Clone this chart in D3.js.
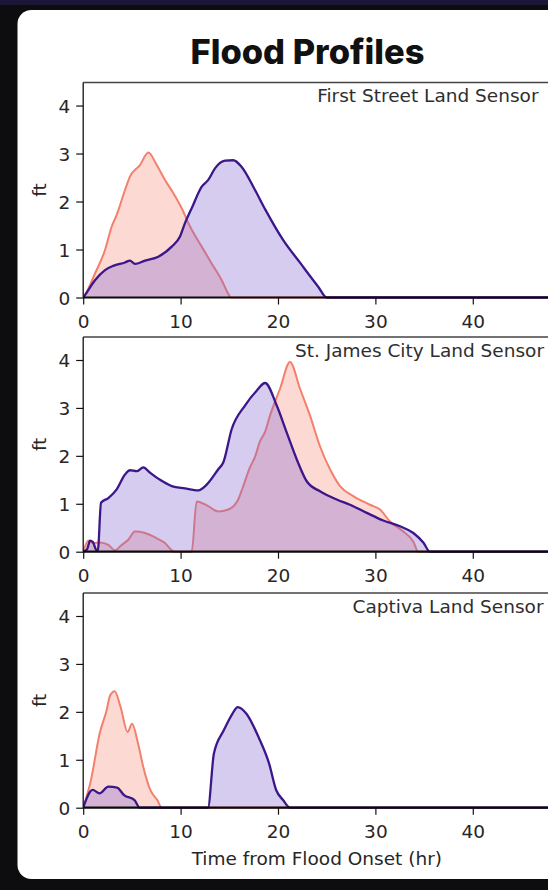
<!DOCTYPE html>
<html>
<head>
<meta charset="utf-8">
<script src="https://cdn.jsdelivr.net/npm/d3@7"></script>
<style>
  html, body { margin: 0; padding: 0; background: #0d0d0f; }
  svg { display: block; }
</style>
</head>
<body>
<svg id="chart" width="548" height="890"></svg>
<script>
// ---------------- DATA ----------------
const chartTitle = "Flood Profiles";
const xAxisLabel = "Time from Flood Onset (hr)";
const yAxisLabel = "ft";
const sensorNames = ["First Street Land Sensor", "St. James City Land Sensor", "Captiva Land Sensor"];
const xTickValues = [0, 10, 20, 30, 40];
const yTickValues = [0, 1, 2, 3, 4];

// [hours from onset, depth ft]
const firstStreetSalmon = [[0,0],[0.18,0.05],[1.21,0.5],[2.24,0.99],[2.93,1.48],[3.44,1.72],[4.29,2.24],[4.8,2.52],[5.83,2.76],[6.69,3.02],[7.55,2.76],[8.4,2.45],[9.26,2.17],[10.11,1.86],[10.97,1.48],[12.17,1.06],[13.19,0.71],[14.22,0.36],[14.97,0.05],[15.14,0],[48,0]];
const firstStreetPurple = [[0,0],[0.18,0.05],[1.21,0.36],[2.24,0.57],[3.09,0.66],[4.29,0.73],[4.8,0.77],[5.32,0.70],[6.35,0.77],[7.71,0.85],[9.09,1.06],[9.94,1.27],[10.45,1.55],[11.14,1.86],[12.17,2.31],[12.84,2.45],[13.53,2.69],[14.56,2.85],[15.41,2.86],[16.27,2.72],[17.64,2.24],[18.73,1.82],[20.52,1.2],[22.32,0.71],[24.11,0.23],[25.01,0],[48,0]];

const stJamesSalmon = [[0,0],[0.53,0.23],[1.04,0.18],[1.72,0.19],[2.58,0.14],[3.26,0.03],[3.95,0.14],[4.63,0.25],[5.32,0.42],[6.35,0.39],[7.55,0.28],[8.4,0.18],[9.09,0.03],[9.3,0],[11.14,0],[11.65,1.05],[12.84,0.95],[13.87,0.84],[14.9,0.88],[15.92,1.09],[16.4,1.35],[17.1,1.75],[17.64,1.98],[18.15,2.3],[18.67,2.5],[19.18,2.84],[20.21,3.4],[21.23,3.96],[22.26,3.4],[23.29,2.84],[24.31,2.2],[25.34,1.72],[26.37,1.37],[27.73,1.16],[29.44,0.98],[30.47,0.88],[31.5,0.63],[32.87,0.42],[33.9,0.21],[34.4,0],[48,0]];
const stJamesPurple = [[0,0],[0.4,0.05],[0.7,0.23],[1.0,0.2],[1.3,0.05],[1.5,0.02],[1.83,1.02],[2.58,1.12],[3.44,1.3],[4.29,1.61],[4.8,1.7],[5.49,1.68],[6.17,1.76],[6.86,1.65],[7.89,1.5],[9.09,1.37],[10.45,1.32],[11.82,1.28],[12.68,1.4],[13.87,1.72],[14.38,1.86],[15.25,2.56],[16.61,3.05],[17.81,3.36],[18.67,3.52],[19.87,3.05],[20.89,2.49],[21.92,1.93],[22.95,1.47],[24.31,1.26],[26.03,1.09],[27.39,0.98],[29.11,0.81],[30.81,0.65],[32.53,0.53],[33.9,0.39],[34.92,0.19],[35.6,0],[48,0]];

const captivaSalmon = [[0,0],[0.79,0.57],[1.68,1.54],[2.4,2.03],[2.76,2.34],[3.23,2.43],[3.84,2.1],[4.56,1.58],[5.02,1.75],[5.63,1.34],[6.17,0.85],[6.89,0.37],[7.61,0.16],[8.07,0],[48,0]];
const captivaPurple = [[0,0],[0.97,0.37],[1.68,0.3],[2.58,0.44],[3.48,0.42],[4.2,0.26],[5.27,0.16],[5.81,0],[12.81,0],[13.42,1.13],[14.42,1.61],[15.32,1.96],[15.86,2.1],[16.76,1.96],[18.01,1.47],[19.09,0.92],[19.81,0.37],[20.52,0.16],[21.24,0],[48,0]];

const salmonSeries = [firstStreetSalmon, stJamesSalmon, captivaSalmon];
const purpleSeries = [firstStreetPurple, stJamesPurple, captivaPurple];

// ---------------- LAYOUT / STYLE ----------------
const svg = d3.select("#chart");
const W = 548, H = 890;
const tickFont = "'DejaVu Sans', sans-serif";
const fs = 18.5;

// background
svg.append("rect").attr("width", W).attr("height", H).attr("fill", "#0d0d0f");
svg.append("rect").attr("width", W).attr("height", 5).attr("fill", "#1e1638");
// card
svg.append("rect").attr("x", 17.5).attr("y", 10).attr("width", 620).attr("height", 869)
  .attr("rx", 14).attr("fill", "#ffffff");

// title
const title = svg.append("text").attr("x", 307.5).attr("y", 64)
  .attr("text-anchor", "middle")
  .attr("font-family", "Inter, Lato, sans-serif").attr("font-weight", 800)
  .attr("font-size", 28).attr("fill", "#111").text(chartTitle);
{
  const w = title.node().getComputedTextLength();
  if (w > 0) title.attr("font-size", 28 * 234 / w);
}

const x = d3.scaleLinear().domain([0, 48]).range([83.2, 550.7]);
const panels = [
  { top: 82.5, zero: 297.5, annX: 538.5, annY: 101.7 },
  { top: 337, zero: 551.7, annX: 544, annY: 357.3 },
  { top: 593, zero: 807.7, annX: 543.5, annY: 613.3 }
];

const salmonLine = "#f3806c", salmonFill = "#fa8072", salmonAlpha = 0.3;
const purpleLine = "#3b1789", purpleFill = "#7b5fd0", purpleAlpha = 0.32;

panels.forEach((p, i) => {
  const y = d3.scaleLinear().domain([0, 4.48]).range([p.zero, p.top]);
  const g = svg.append("g");

  const area = d3.area().x(d => x(d[0])).y0(y(0)).y1(d => y(d[1])).curve(d3.curveMonotoneX);
  const line = d3.line().x(d => x(d[0])).y(d => y(d[1])).curve(d3.curveMonotoneX);

  const clipId = "clip" + i;
  svg.append("clipPath").attr("id", clipId).append("rect")
    .attr("x", x(0)).attr("y", p.top).attr("width", x(48) - x(0)).attr("height", p.zero - p.top + 3);
  const plot = g.append("g").attr("clip-path", `url(#${clipId})`);

  plot.append("path").datum(salmonSeries[i]).attr("d", area)
    .attr("fill", salmonFill).attr("fill-opacity", salmonAlpha);
  plot.append("path").datum(salmonSeries[i]).attr("d", line)
    .attr("fill", "none").attr("stroke", salmonLine).attr("stroke-width", 2).attr("stroke-linejoin", "round");
  plot.append("path").datum(purpleSeries[i]).attr("d", area)
    .attr("fill", purpleFill).attr("fill-opacity", purpleAlpha);
  plot.append("path").datum(purpleSeries[i]).attr("d", line)
    .attr("fill", "none").attr("stroke", purpleLine).attr("stroke-width", 2.3).attr("stroke-linejoin", "round");

  // spines
  g.append("line").attr("x1", x(0)).attr("x2", x(48)).attr("y1", p.top).attr("y2", p.top)
    .attr("stroke", "#444").attr("stroke-width", 1.4);
  g.append("line").attr("x1", x(0)).attr("x2", x(0)).attr("y1", p.top).attr("y2", p.zero)
    .attr("stroke", "#111").attr("stroke-width", 1.3);
  g.append("line").attr("x1", x(0)).attr("x2", x(48)).attr("y1", p.zero).attr("y2", p.zero)
    .attr("stroke", "#0a0a0a").attr("stroke-width", 2.2);

  // x axis
  const xa = g.append("g").attr("transform", `translate(0,${p.zero})`)
    .call(d3.axisBottom(x).tickValues(xTickValues).tickSize(7).tickSizeOuter(0).tickPadding(0).tickFormat(d3.format("d")));
  xa.select(".domain").remove();
  xa.selectAll(".tick line").attr("stroke", "#111").attr("stroke-width", 1.2);
  xa.selectAll(".tick text").attr("y", 30.5).attr("dy", null)
    .attr("font-family", tickFont).attr("font-size", fs).attr("fill", "#262626");

  // y axis
  const ya = g.append("g").attr("transform", `translate(${x(0)},0)`)
    .call(d3.axisLeft(y).tickValues(yTickValues).tickSize(7).tickSizeOuter(0).tickPadding(6).tickFormat(d3.format("d")));
  ya.select(".domain").remove();
  ya.selectAll(".tick line").attr("stroke", "#111").attr("stroke-width", 1.2);
  ya.selectAll(".tick text").attr("dy", "0.36em")
    .attr("font-family", tickFont).attr("font-size", fs).attr("fill", "#262626");

  // y label
  g.append("text").attr("transform", `translate(40,${(p.top + p.zero) / 2}) rotate(-90)`)
    .attr("text-anchor", "middle").attr("dy", "0.35em")
    .attr("font-family", tickFont).attr("font-size", fs).attr("fill", "#262626").text(yAxisLabel);

  // sensor annotation
  g.append("text").attr("x", p.annX).attr("y", p.annY).attr("text-anchor", "end")
    .attr("font-family", tickFont).attr("font-size", fs).attr("fill", "#2e2e2e").text(sensorNames[i]);
});

// x label
svg.append("text").attr("x", 316.8).attr("y", 865).attr("text-anchor", "middle")
  .attr("font-family", tickFont).attr("font-size", fs).attr("fill", "#262626").text(xAxisLabel);
</script>
</body>
</html>
